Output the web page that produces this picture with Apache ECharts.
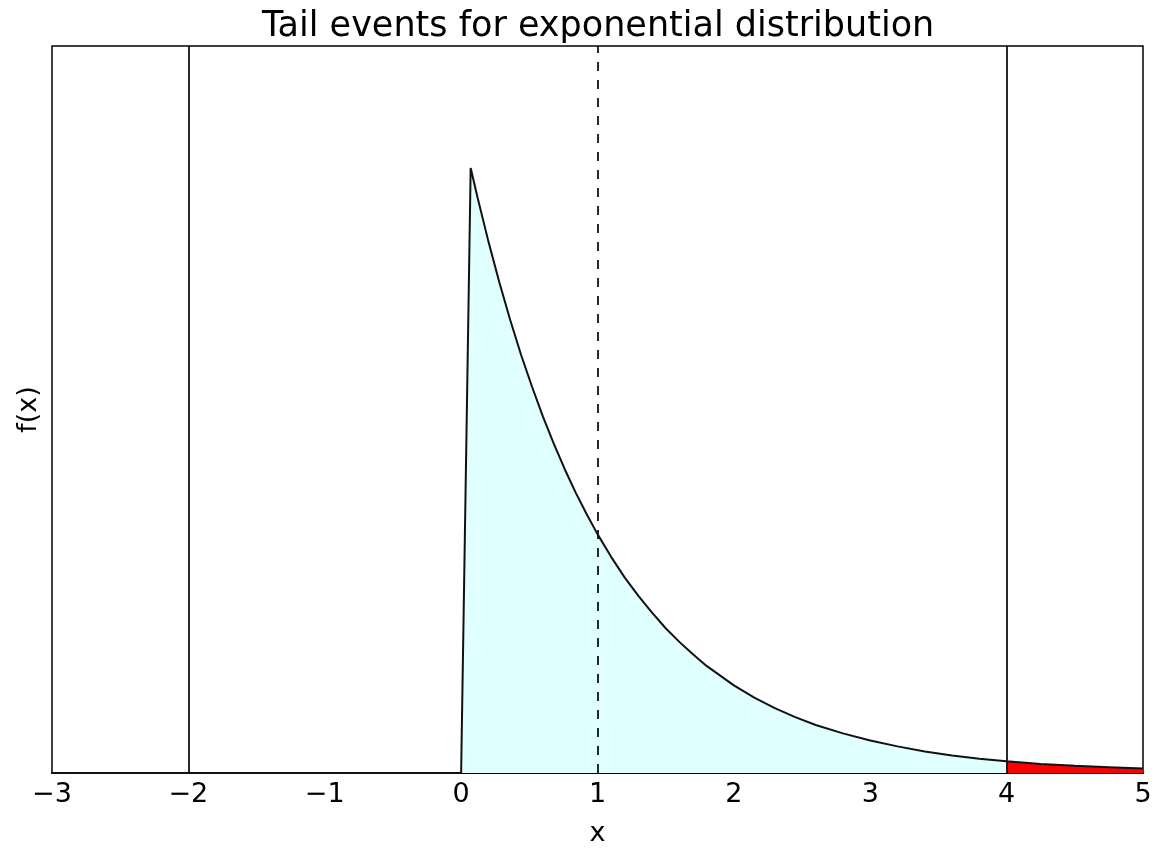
<!DOCTYPE html>
<html>
<head>
<meta charset="utf-8">
<script src="https://cdn.jsdelivr.net/npm/echarts@6/dist/echarts.min.js"></script>
<style>
  html, body { margin: 0; padding: 0; background: #fff; }
  #chart { width: 1159px; height: 850px; }
</style>
</head>
<body>
<div id="chart"></div>
<script>
// values
var curve_x = [-3, 0, 0.07, 0.12, 0.2, 0.28, 0.36, 0.44, 0.52, 0.6, 0.68, 0.76, 0.84, 0.92, 1, 1.1, 1.2, 1.3, 1.4, 1.5, 1.6, 1.7, 1.8, 1.9, 2, 2.15, 2.3, 2.45, 2.6, 2.8, 3, 3.2, 3.4, 3.6, 3.8, 4, 4.25, 4.5, 4.75, 5];
var curve_y = [0, 0, 0.932, 0.887, 0.819, 0.756, 0.698, 0.644, 0.595, 0.549, 0.507, 0.468, 0.432, 0.399, 0.368, 0.333, 0.301, 0.273, 0.247, 0.223, 0.202, 0.183, 0.165, 0.150, 0.135, 0.116, 0.100, 0.086, 0.074, 0.061, 0.050, 0.041, 0.033, 0.027, 0.022, 0.018, 0.014, 0.011, 0.009, 0.007];
var solid_lines = [-2, 4];
var dashed_lines = [1];
var x_ticks = [-3, -2, -1, 0, 1, 2, 3, 4, 5];

function pairs(lo, hi) {
    var out = [];
    for (var i = 0; i < curve_x.length; i++) {
        if (curve_x[i] >= lo && curve_x[i] <= hi) out.push([curve_x[i], curve_y[i]]);
    }
    return out;
}

var chart = echarts.init(document.getElementById('chart'));
var font = 'DejaVu Sans';
var option = {
    backgroundColor: '#fff',
    animation: false,
    title: {
        text: 'Tail events for exponential distribution',
        left: 257,
        top: 4,
        textStyle: { fontFamily: font, fontSize: 35, fontWeight: 'normal', color: '#000' }
    },
    grid: {
        left: 52, right: 16, top: 46, bottom: 77,
        outerBoundsMode: 'none',
        containLabel: false,
        show: true, borderColor: '#000', borderWidth: 1.5
    },
    xAxis: {
        type: 'value', min: -3, max: 5, interval: 1,
        name: 'x', nameLocation: 'middle', nameGap: 47,
        nameTextStyle: { fontFamily: font, fontSize: 27, color: '#000' },
        axisLine: { show: true, lineStyle: { color: '#000', width: 2 } },
        axisTick: { show: false },
        splitLine: { show: false },
        axisLabel: {
            fontFamily: font, fontSize: 27, color: '#000', margin: 8,
            formatter: function (v) {
                return x_ticks.indexOf(v) < 0 ? '' : (v < 0 ? '\u2212' + Math.abs(v) : String(v));
            }
        }
    },
    yAxis: {
        type: 'value', min: 0, max: 1.12,
        name: 'f(x)', nameLocation: 'middle', nameGap: 10,
        nameTextStyle: { fontFamily: font, fontSize: 27, color: '#000' },
        axisLine: { show: false },
        axisTick: { show: false },
        axisLabel: { show: false },
        splitLine: { show: false }
    },
    series: [
        {
            type: 'line', data: pairs(0, 4), symbol: 'none',
            lineStyle: { width: 0 },
            areaStyle: { color: '#e0ffff', opacity: 1 },
            z: 1
        },
        {
            type: 'line', data: pairs(4, 5), symbol: 'none',
            lineStyle: { width: 0 },
            areaStyle: { color: '#ff0000', opacity: 1 },
            z: 1
        },
        {
            type: 'line', data: pairs(-3, 5), symbol: 'none',
            lineStyle: { color: '#111', width: 2 },
            z: 3,
            markLine: {
                silent: true, symbol: 'none', animation: false,
                label: { show: false },
                data: solid_lines.map(function (v) {
                    return { xAxis: v, lineStyle: { color: '#111', width: 1.8, type: 'solid' } };
                }).concat(dashed_lines.map(function (v) {
                    return { xAxis: v, lineStyle: { color: '#111', width: 1.8, type: [9, 9] } };
                }))
            }
        }
    ]
};
chart.setOption(option);
</script>
</body>
</html>
